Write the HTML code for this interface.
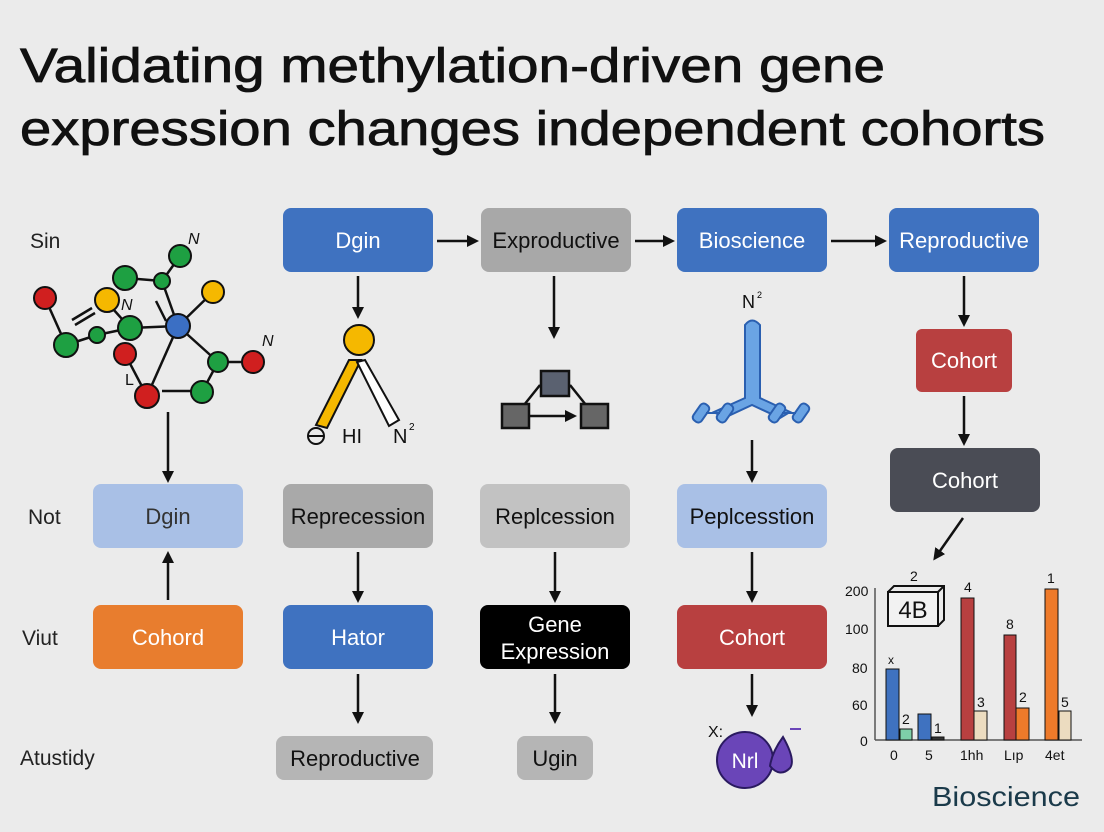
<!DOCTYPE html>
<html><head><meta charset="utf-8"><style>
html,body{margin:0;padding:0;background:#ebebeb;}
svg{display:block;font-family:"Liberation Sans",sans-serif;}
</style></head><body>
<svg width="1104" height="832" viewBox="0 0 1104 832" xmlns="http://www.w3.org/2000/svg">
<defs><marker id="a" markerWidth="12" markerHeight="12" refX="9" refY="6" orient="auto" markerUnits="userSpaceOnUse"><path d="M0,0 L12,6 L0,12 z" fill="#111"/></marker></defs>
<rect width="1104" height="832" fill="#ebebeb"/>
<text x="20" y="82" font-size="48" fill="#111" stroke="#111" stroke-width="0.8" textLength="865" lengthAdjust="spacingAndGlyphs">Validating methylation-driven gene</text>
<text x="20" y="145" font-size="48" fill="#111" stroke="#111" stroke-width="0.8" textLength="1025" lengthAdjust="spacingAndGlyphs">expression changes independent cohorts</text>
<g font-size="21" fill="#222">
<text x="30" y="248">Sin</text><text x="28" y="524">Not</text><text x="22" y="645">Viut</text><text x="20" y="765">Atustidy</text></g>
<g stroke="#111" stroke-width="2.5" fill="none" marker-end="url(#a)">
<line x1="437" y1="241" x2="476" y2="241"/><line x1="635" y1="241" x2="672" y2="241"/><line x1="831" y1="241" x2="884" y2="241"/>
<line x1="358" y1="276" x2="358" y2="316"/><line x1="554" y1="276" x2="554" y2="336"/><line x1="964" y1="276" x2="964" y2="324"/>
<line x1="964" y1="396" x2="964" y2="443"/><line x1="963" y1="518" x2="935" y2="558"/>
<line x1="168" y1="412" x2="168" y2="480"/><line x1="168" y1="600" x2="168" y2="554"/>
<line x1="752" y1="440" x2="752" y2="480"/>
<line x1="358" y1="552" x2="358" y2="600"/><line x1="555" y1="552" x2="555" y2="600"/><line x1="752" y1="552" x2="752" y2="600"/>
<line x1="358" y1="674" x2="358" y2="721"/><line x1="555" y1="674" x2="555" y2="721"/><line x1="752" y1="674" x2="752" y2="714"/>
</g>
<g font-size="22" text-anchor="middle">
<rect x="283" y="208" width="150" height="64" rx="8" fill="#3f72c0"/><text x="358" y="248" fill="#fff">Dgin</text>
<rect x="481" y="208" width="150" height="64" rx="8" fill="#a8a8a8"/><text x="556" y="248" fill="#111">Exproductive</text>
<rect x="677" y="208" width="150" height="64" rx="8" fill="#3f72c0"/><text x="752" y="248" fill="#fff">Bioscience</text>
<rect x="889" y="208" width="150" height="64" rx="8" fill="#3f72c0"/><text x="964" y="248" fill="#fff">Reproductive</text>
<rect x="916" y="329" width="96" height="63" rx="6" fill="#b84040"/><text x="964" y="368" fill="#fff">Cohort</text>
<rect x="890" y="448" width="150" height="64" rx="8" fill="#4a4c55"/><text x="965" y="488" fill="#fff">Cohort</text>
<rect x="93" y="484" width="150" height="64" rx="8" fill="#a9c0e6"/><text x="168" y="524" fill="#333">Dgin</text>
<rect x="283" y="484" width="150" height="64" rx="8" fill="#a9a9a9"/><text x="358" y="524" fill="#111">Reprecession</text>
<rect x="480" y="484" width="150" height="64" rx="8" fill="#c2c2c2"/><text x="555" y="524" fill="#111">Replcession</text>
<rect x="677" y="484" width="150" height="64" rx="8" fill="#a9c0e6"/><text x="752" y="524" fill="#111">Peplcesstion</text>
<rect x="93" y="605" width="150" height="64" rx="8" fill="#e87d2e"/><text x="168" y="645" fill="#fff">Cohord</text>
<rect x="283" y="605" width="150" height="64" rx="8" fill="#3f72c0"/><text x="358" y="645" fill="#fff">Hator</text>
<rect x="480" y="605" width="150" height="64" rx="8" fill="#000"/><text x="555" y="632" fill="#fff">Gene</text><text x="555" y="659" fill="#fff">Expression</text>
<rect x="677" y="605" width="150" height="64" rx="8" fill="#b84040"/><text x="752" y="645" fill="#fff">Cohort</text>
<rect x="276" y="736" width="157" height="44" rx="8" fill="#b5b5b5"/><text x="355" y="766" fill="#111">Reproductive</text>
<rect x="517" y="736" width="76" height="44" rx="8" fill="#b5b5b5"/><text x="555" y="766" fill="#111">Ugin</text>
</g>
<g stroke="#111" stroke-width="2.5">
<line x1="45" y1="298" x2="66" y2="345"/><line x1="66" y1="345" x2="97" y2="335"/><line x1="97" y1="335" x2="130" y2="328"/>
<line x1="125" y1="278" x2="162" y2="281"/><line x1="162" y1="281" x2="180" y2="256"/><line x1="162" y1="281" x2="178" y2="326"/>
<line x1="105" y1="300" x2="130" y2="328"/><line x1="130" y1="328" x2="178" y2="326"/><line x1="178" y1="326" x2="213" y2="292"/>
<line x1="178" y1="326" x2="218" y2="362"/><line x1="218" y1="362" x2="253" y2="362"/><line x1="218" y1="362" x2="202" y2="392"/>
<line x1="178" y1="326" x2="147" y2="396"/><line x1="125" y1="354" x2="147" y2="396"/><line x1="162" y1="391" x2="195" y2="391"/>
<line x1="72" y1="320" x2="92" y2="308"/><line x1="75" y1="325" x2="95" y2="313"/><line x1="156" y1="301" x2="166" y2="321"/>
</g>
<g stroke="#111" stroke-width="2">
<circle cx="45" cy="298" r="11" fill="#d01f1f"/><circle cx="66" cy="345" r="12" fill="#1ea042"/><circle cx="97" cy="335" r="8" fill="#1ea042"/>
<circle cx="125" cy="278" r="12" fill="#1ea042"/><circle cx="162" cy="281" r="8" fill="#1ea042"/><circle cx="180" cy="256" r="11" fill="#1ea042"/>
<circle cx="107" cy="300" r="12" fill="#f5b800"/><circle cx="213" cy="292" r="11" fill="#f5b800"/>
<circle cx="130" cy="328" r="12" fill="#1ea042"/><circle cx="178" cy="326" r="12" fill="#3b6fc4"/>
<circle cx="125" cy="354" r="11" fill="#d01f1f"/><circle cx="218" cy="362" r="10" fill="#1ea042"/><circle cx="253" cy="362" r="11" fill="#d01f1f"/>
<circle cx="147" cy="396" r="12" fill="#d01f1f"/><circle cx="202" cy="392" r="11" fill="#1ea042"/>
</g>
<g font-size="16" font-style="italic" fill="#111"><text x="188" y="244">N</text><text x="121" y="310">N</text><text x="262" y="346">N</text><text x="125" y="385" font-style="normal">L</text></g>
<g stroke="#111" stroke-width="2">
<path d="M349,360 L316,425 L327,428 L361,360 z" fill="#f5b800"/>
<path d="M365,360 L399,420 L389,426 L357,362 z" fill="#fff"/>
<circle cx="359" cy="340" r="15" fill="#f5b800"/>
<circle cx="316" cy="436" r="8" fill="none"/><line x1="308" y1="436" x2="324" y2="436"/>
</g>
<text x="342" y="443" font-size="20" fill="#111">HI</text><text x="393" y="443" font-size="20" fill="#111">N</text><text x="409" y="430" font-size="10">2</text>
<g stroke="#111" stroke-width="2.5">
<line x1="540" y1="385" x2="520" y2="410"/><line x1="570" y1="385" x2="590" y2="410"/>
<rect x="541" y="371" width="28" height="25" fill="#5a6170"/><rect x="502" y="404" width="27" height="24" fill="#666"/><rect x="581" y="404" width="27" height="24" fill="#666"/>
</g>
<line x1="530" y1="416" x2="574" y2="416" stroke="#111" stroke-width="2.5" marker-end="url(#a)"/>
<g stroke="#2a5fb0" stroke-width="2" fill="#6aa4e4">
<path d="M745,325 Q752,316 760,325 L760,398 L790,412 L780,418 L752,405 L724,418 L714,412 L745,398 z"/>
<rect x="696" y="403" width="10" height="20" rx="4" transform="rotate(35 701 413)"/>
<rect x="720" y="403" width="10" height="20" rx="4" transform="rotate(35 725 413)"/>
<rect x="772" y="403" width="10" height="20" rx="4" transform="rotate(35 777 413)"/>
<rect x="796" y="403" width="10" height="20" rx="4" transform="rotate(35 801 413)"/>
<line x1="706" y1="413" x2="720" y2="413"/><line x1="782" y1="413" x2="796" y2="413"/>
</g>
<text x="742" y="308" font-size="18" fill="#111">N</text><text x="757" y="298" font-size="9">2</text>
<circle cx="745" cy="760" r="28" fill="#6a45b8" stroke="#2a1a60" stroke-width="2"/>
<path d="M783,737 Q796,760 790,768 Q780,778 770,766 Q772,752 783,737 z" fill="#6a45b8" stroke="#2a1a60" stroke-width="2"/>
<text x="745" y="768" font-size="21" fill="#fff" text-anchor="middle">Nrl</text>
<text x="708" y="737" font-size="16" fill="#111">X:</text>
<line x1="790" y1="729" x2="801" y2="729" stroke="#6a45b8" stroke-width="2"/>
<g font-size="14" fill="#111">
<text x="845" y="596">200</text><text x="845" y="634">100</text><text x="852" y="673">80</text><text x="852" y="710">60</text><text x="860" y="746">0</text>
<text x="890" y="760">0</text><text x="925" y="760">5</text><text x="960" y="760">1hh</text><text x="1004" y="760">Lıp</text><text x="1045" y="760">4et</text>
<text x="888" y="664" font-size="12">x</text><text x="902" y="724">2</text><text x="934" y="733">1</text>
<text x="964" y="592">4</text><text x="977" y="707">3</text><text x="1006" y="629">8</text><text x="1019" y="702">2</text>
<text x="1047" y="583">1</text><text x="1061" y="707">5</text><text x="910" y="581">2</text>
</g>
<line x1="875" y1="588" x2="875" y2="740" stroke="#555" stroke-width="1.5"/>
<line x1="875" y1="740" x2="1082" y2="740" stroke="#555" stroke-width="1.5"/>
<g stroke="#111" stroke-width="1">
<rect x="886" y="669" width="13" height="71" fill="#3f72c0"/><rect x="900" y="729" width="12" height="11" fill="#7ecfa8"/>
<rect x="918" y="714" width="13" height="26" fill="#3f72c0"/><rect x="932" y="737" width="12" height="3" fill="#333"/>
<rect x="961" y="598" width="13" height="142" fill="#b84040"/><rect x="974" y="711" width="13" height="29" fill="#ecdcc0"/>
<rect x="1004" y="635" width="12" height="105" fill="#b84040"/><rect x="1016" y="708" width="13" height="32" fill="#ee7a2a"/>
<rect x="1045" y="589" width="13" height="151" fill="#ee7a2a"/><rect x="1059" y="711" width="12" height="29" fill="#ecdcc0"/>
</g>
<path d="M888,592 L894,586 L944,586 L944,620 L938,626 M938,592 L944,586" fill="none" stroke="#111" stroke-width="2"/>
<rect x="888" y="592" width="50" height="34" fill="#f2f2f2" stroke="#111" stroke-width="2"/>
<text x="913" y="618" font-size="24" text-anchor="middle" fill="#111">4B</text>
<text x="932" y="806" font-size="28" fill="#1a3a4a" textLength="148" lengthAdjust="spacingAndGlyphs">Bioscience</text>
</svg>
</body></html>
